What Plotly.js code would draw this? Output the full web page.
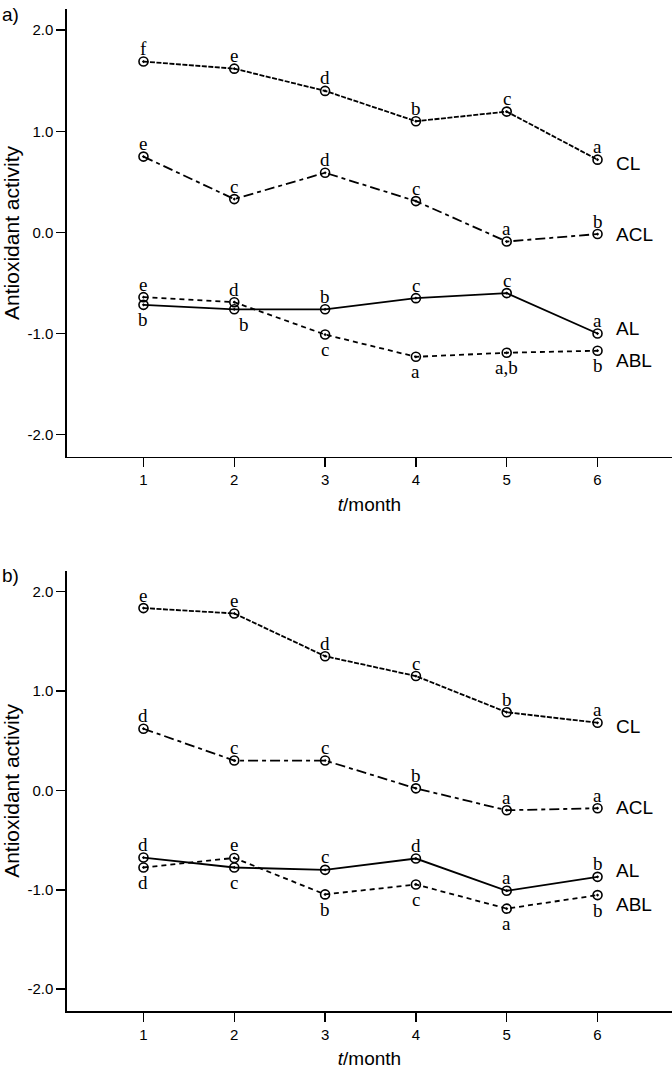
<!DOCTYPE html>
<html>
<head>
<meta charset="utf-8">
<script src="https://cdn.plot.ly/plotly-3.0.1.min.js"></script>
<style>html,body{margin:0;padding:0;background:#fff;}</style>
</head>
<body>
<div id="chart" style="width:672px;height:1073px;"></div>
<script>
// ---- data ----
const months = [1, 2, 3, 4, 5, 6];
const seriesNames = ["CL", "ACL", "AL", "ABL"];

// panel a)
const aCL  = [1.69, 1.62, 1.40, 1.10, 1.195, 0.72];
const aACL = [0.75, 0.33, 0.59, 0.31, -0.09, -0.016];
const aAL  = [-0.716, -0.76, -0.76, -0.65, -0.60, -1.00];
const aABL = [-0.64, -0.69, -1.01, -1.23, -1.19, -1.17];

// panel b)
const bCL  = [1.834, 1.78, 1.35, 1.15, 0.786, 0.68];
const bACL = [0.62, 0.30, 0.30, 0.02, -0.20, -0.18];
const bAL  = [-0.676, -0.776, -0.80, -0.686, -1.01, -0.87];
const bABL = [-0.776, -0.68, -1.047, -0.947, -1.19, -1.054];

// significance letters
const aCLlab  = ["f", "e", "d", "b", "c", "a"];
const aACLlab = ["e", "c", "d", "c", "a", "b"];
const aALlab  = ["b", "b", "b", "c", "c", "a"];
const aABLlab = ["e", "d", "c", "a", "a,b", "b"];
const bCLlab  = ["e", "e", "d", "c", "b", "a"];
const bACLlab = ["d", "c", "c", "b", "a", "a"];
const bALlab  = ["d", "c", "c", "d", "a", "b"];
const bABLlab = ["d", "e", "b", "c", "a", "b"];

const yTickVals = [-2, -1, 0, 1, 2];
const yTickText = ["-2.0", "-1.0", "0.0", "1.0", "2.0"];

// ---- layout helpers (label side: 1 above, -1 below) ----
const aSide = {
  CL: [1,1,1,1,1,1], ACL: [1,1,1,1,1,1],
  AL: [-1,-1,1,1,1,1], ABL: [1,1,-1,-1,-1,-1]
};
const bSide = {
  CL: [1,1,1,1,1,1], ACL: [1,1,1,1,1,1],
  AL: [1,-1,1,1,1,1], ABL: [-1,1,-1,-1,-1,-1]
};
const endShiftA = {CL: -4, ACL: 0, AL: 5, ABL: -10};
const endShiftB = {CL: -4, ACL: 1, AL: 6, ABL: -9};

const styles = {
  CL:  {dash: "5px,1.5px"},
  ACL: {dash: "10px,4px,4px,4px"},
  AL:  {dash: "solid"},
  ABL: {dash: "5px,4px"}
};

function mkTrace(name, ys, xa, ya) {
  return {
    x: months, y: ys, xaxis: xa, yaxis: ya, name: name,
    type: "scatter", mode: "lines+markers", showlegend: false,
    line: {color: "#000", width: 1.8, dash: styles[name].dash},
    marker: {symbol: "circle-open-dot", size: 9, color: "#000", line: {width: 1.6, color: "#000"}}
  };
}

const panelA = {CL: aCL, ACL: aACL, AL: aAL, ABL: aABL};
const panelB = {CL: bCL, ACL: bACL, AL: bAL, ABL: bABL};
const labA = {CL: aCLlab, ACL: aACLlab, AL: aALlab, ABL: aABLlab};
const labB = {CL: bCLlab, ACL: bACLlab, AL: bALlab, ABL: bABLlab};

const traces = [];
const annotations = [];

function addPanel(data, labs, side, endShift, xa, ya, xref, yref) {
  seriesNames.forEach(function (n) {
    traces.push(mkTrace(n, data[n], xa, ya));
    months.forEach(function (m, i) {
      const s = side[n][i];
      let xs = 0;
      if (xa === "x" && n === "AL" && i === 1) xs = 10;
      annotations.push({
        x: m, y: data[n][i], xref: xref, yref: yref,
        text: labs[n][i], showarrow: false,
        xanchor: "center", yanchor: "middle",
        xshift: xs, yshift: s > 0 ? 13 : -15,
        font: {family: "Liberation Serif, Times New Roman, serif", size: 19, color: "#000"}
      });
    });
    annotations.push({
      x: months[months.length - 1], y: data[n][data[n].length - 1], xref: xref, yref: yref,
      text: n, showarrow: false, xanchor: "left", yanchor: "middle",
      xshift: 16, yshift: endShift[n],
      font: {family: "Liberation Sans, Arial, sans-serif", size: 19, color: "#000"}
    });
  });
}

addPanel(panelA, labA, aSide, endShiftA, "x", "y", "x", "y");
addPanel(panelB, labB, bSide, endShiftB, "x2", "y2", "x2", "y2");

annotations.push({
  xref: "paper", yref: "paper", x: -0.110, y: 0.995, text: "a)", showarrow: false,
  xanchor: "left", yanchor: "middle",
  font: {family: "Liberation Sans, Arial, sans-serif", size: 19, color: "#000"}
});
annotations.push({
  xref: "paper", yref: "paper", x: -0.110, y: 0.435, text: "b)", showarrow: false,
  xanchor: "left", yanchor: "middle",
  font: {family: "Liberation Sans, Arial, sans-serif", size: 19, color: "#000"}
});

const tickFont = {family: "Liberation Sans, Arial, sans-serif", size: 15, color: "#000"};
const xTitleFont = {family: "Liberation Sans, Arial, sans-serif", size: 19, color: "#000"};
const yTitleFont = {family: "Liberation Sans, Arial, sans-serif", size: 21, color: "#000"};

function xAxis(anchor) {
  return {
    anchor: anchor, domain: [0, 1], range: [0.158, 6.82],
    tickvals: months, ticktext: months.map(String),
    ticks: "outside", ticklen: 9, tickwidth: 1.5, tickcolor: "#000",
    showline: true, linewidth: 1.6, linecolor: "#000",
    showgrid: false, zeroline: false, tickfont: tickFont,
    title: {text: "<i>t</i>/month", font: xTitleFont, standoff: 10}
  };
}
function yAxis(anchor, domain) {
  return {
    anchor: anchor, domain: domain, range: [-2.22, 2.21],
    tickvals: yTickVals, ticktext: yTickText,
    ticks: "outside", ticklen: 9, tickwidth: 1.5, tickcolor: "#000",
    showline: true, linewidth: 1.6, linecolor: "#000",
    showgrid: false, zeroline: false, tickfont: tickFont,
    title: {text: "Antioxidant activity", font: yTitleFont, standoff: 6}
  };
}

const layout = {
  width: 672, height: 1073,
  margin: {l: 67, r: 0, t: 9, b: 62},
  paper_bgcolor: "#fff", plot_bgcolor: "#fff",
  xaxis: xAxis("y"),
  yaxis: yAxis("x", [0.553, 1]),
  xaxis2: xAxis("y2"),
  yaxis2: yAxis("x2", [0, 0.4394]),
  annotations: annotations,
  showlegend: false
};

Plotly.newPlot("chart", traces, layout, {staticPlot: true, displayModeBar: false});
</script>
</body>
</html>
